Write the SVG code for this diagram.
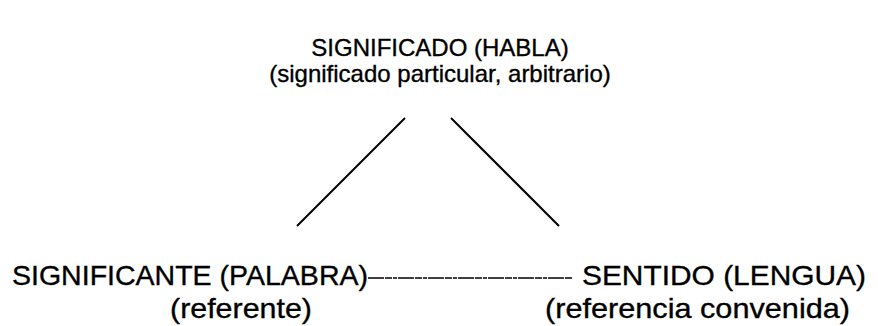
<svg xmlns="http://www.w3.org/2000/svg" width="878" height="326" viewBox="0 0 878 326">
<style>
text{font-family:"Liberation Sans",Arial,sans-serif;fill:#000;stroke:#000;stroke-width:0.35;}
.t{font-size:24px;}
.b{font-size:28px;}
line{stroke:#000;stroke-width:2;}
.d{stroke-width:1.5;stroke-dasharray:16 1 7 1 4 1;}
</style>
<rect width="878" height="326" fill="#fff"/>
<g id="significado">
<text class="t" x="440" y="56" text-anchor="middle">SIGNIFICADO (HABLA)</text>
<text class="t" x="440" y="82" text-anchor="middle">(significado particular, arbitrario)</text>
</g>
<g id="significante">
<text class="b" x="12" y="285" textLength="356" lengthAdjust="spacingAndGlyphs">SIGNIFICANTE (PALABRA)</text>
<text class="b" x="170" y="318" textLength="142" lengthAdjust="spacingAndGlyphs">(referente)</text>
</g>
<g id="sentido">
<text class="b" x="582" y="285" textLength="284" lengthAdjust="spacingAndGlyphs">SENTIDO (LENGUA)</text>
<text class="b" x="545" y="318" textLength="305" lengthAdjust="spacingAndGlyphs">(referencia convenida)</text>
</g>
<g id="connectors">
<line x1="297" y1="226" x2="405" y2="118"/>
<line x1="451" y1="118" x2="559" y2="226"/>
<line class="d" x1="368" y1="278" x2="572" y2="278"/>
</g>
</svg>
